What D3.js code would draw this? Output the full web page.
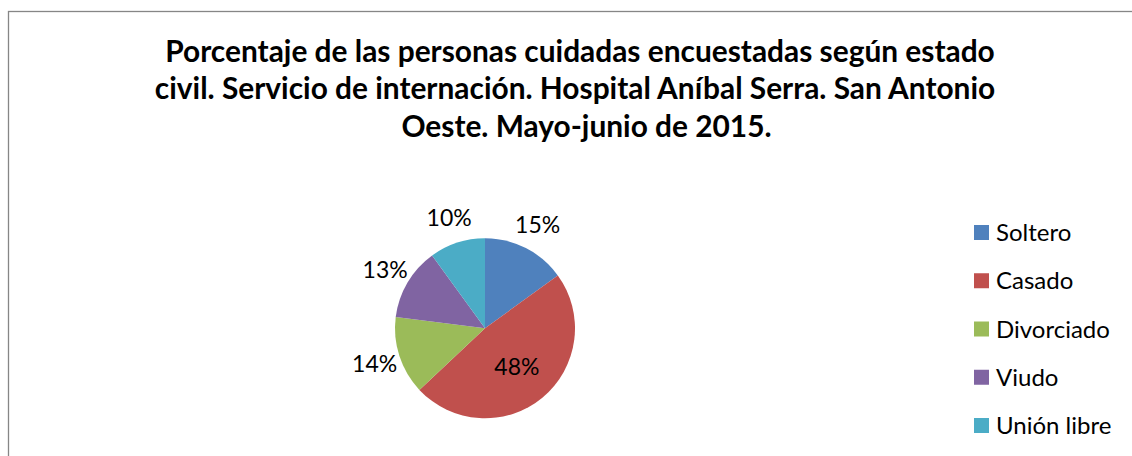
<!DOCTYPE html>
<html>
<head>
<meta charset="utf-8">
<script src="https://cdn.jsdelivr.net/npm/d3@7"></script>
<style>
  html, body { margin: 0; padding: 0; background: #fff; }
  svg { display: block; }
</style>
</head>
<body>
<svg id="chart" width="1132" height="456"></svg>
<script>
const categories = ["Soltero", "Casado", "Divorciado", "Viudo", "Unión libre"];
const values = [15, 48, 14, 13, 10];
const labels = ["15%", "48%", "14%", "13%", "10%"];
const colors = ["#4F81BD", "#C0504D", "#9BBB59", "#8064A2", "#4BACC6"];
const titleLines = [
  "Porcentaje de las personas cuidadas encuestadas según estado",
  "civil. Servicio de internación. Hospital Aníbal Serra. San Antonio",
  "Oeste. Mayo-junio de 2015."
];

const svg = d3.select("#chart");
const FONT = "Lato, 'Open Sans', 'DejaVu Sans', sans-serif";

// frame
svg.append("rect")
  .attr("x", 8.5).attr("y", 11.5)
  .attr("width", 1140).attr("height", 460)
  .attr("fill", "#fff").attr("stroke", "#868686").attr("stroke-width", 1.3);

// title
const title = svg.append("g");
const titleY = [61.5, 99, 136.5];
const titleX = [580, 575, 586.5];
titleLines.forEach((t, i) => {
  title.append("text")
    .attr("x", titleX[i]).attr("y", titleY[i])
    .attr("text-anchor", "middle")
    .attr("font-family", FONT)
    .attr("font-weight", "bold")
    .attr("font-size", 27)
    .attr("fill", "#000")
    .text(t);
});
{
  const n = title.select("text").node();
  const w = n.getComputedTextLength();
  const s = 27 * 830 / w;
  title.selectAll("text").attr("font-size", s);
}

// pie
const cx = 485, cy = 328.3, r = 90;
const pie = d3.pie().value(d => d).sort(null);
const arcs = pie(values);
const arc = d3.arc().innerRadius(0).outerRadius(r);
const g = svg.append("g").attr("transform", `translate(${cx},${cy})`);
g.selectAll("path.slice").data(arcs).enter().append("path")
  .attr("class", "slice")
  .attr("d", arc)
  .attr("fill", (d, i) => colors[i]);

const outerLabelArc = d3.arc().innerRadius(116).outerRadius(116);
const innerLabelArc = d3.arc().innerRadius(50).outerRadius(50);
g.selectAll("text.lbl").data(arcs).enter().append("text")
  .attr("class", "lbl")
  .attr("transform", (d, i) => {
    const c = (values[i] > 30 ? innerLabelArc : outerLabelArc).centroid(d);
    return `translate(${c[0]},${c[1]})`;
  })
  .attr("text-anchor", "middle")
  .attr("dy", "0.36em")
  .attr("font-family", FONT)
  .attr("font-size", 23)
  .attr("fill", "#000")
  .text((d, i) => labels[i]);

// legend
const legend = svg.append("g");
const legY = d3.scalePoint().domain(categories).range([232.5, 425.5]);
categories.forEach((c, i) => {
  legend.append("rect")
    .attr("x", 974).attr("y", legY(c) - 7.5)
    .attr("width", 15).attr("height", 15)
    .attr("fill", colors[i]);
  legend.append("text")
    .attr("x", 996).attr("y", legY(c))
    .attr("dy", "0.36em")
    .attr("font-family", FONT)
    .attr("font-size", 24)
    .attr("fill", "#000")
    .text(c);
});
</script>
</body>
</html>
